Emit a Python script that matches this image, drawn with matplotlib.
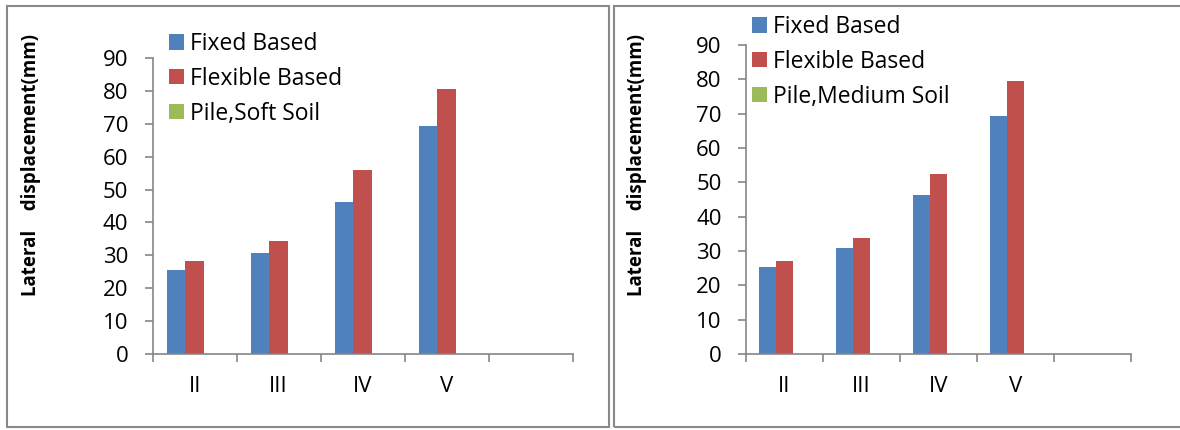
import matplotlib
matplotlib.use("Agg")
import matplotlib.pyplot as plt
from matplotlib.patches import Rectangle

plt.rcParams['font.family'] = ['Open Sans', 'DejaVu Sans']

# storey levels and lateral displacement (mm)
storeys = ["II", "III", "IV", "V"]
fixed_soft = [25.5, 30.7, 46.3, 69.3]
flexible_soft = [28.3, 34.5, 56.0, 80.5]
pile_soft = [0, 0, 0, 0]

fixed_medium = [25.4, 30.8, 46.2, 69.4]
flexible_medium = [27.1, 33.7, 52.5, 79.5]
pile_medium = [0, 0, 0, 0]

W, H = 1180, 430
BLUE, RED, GREEN = '#4F81BD', '#C0504D', '#9BBB59'
GREY = '#868686'


def px(x0, y0, x1, y1):
    # pixel box (top-left origin) -> figure fraction rect
    return [x0 / W, (H - y1) / H, (x1 - x0) / W, (y1 - y0) / H]


def panel(fig, box, axrect, legpos, ylab_x, fixed, flexible, pile, pile_name):
    fig.patches.append(Rectangle((box[0] / W, (H - box[3]) / H),
                                 (box[2] - box[0]) / W, (box[3] - box[1]) / H,
                                 transform=fig.transFigure, fill=False,
                                 edgecolor='#898989', linewidth=1.5))

    ax = fig.add_axes(px(*axrect))
    n = len(storeys)
    w = 0.22
    centers = [i + 0.5 for i in range(n)]
    b1 = ax.bar([c - w for c in centers], fixed, w, color=BLUE, label="Fixed Based")
    b2 = ax.bar(centers, flexible, w, color=RED, label="Flexible Based")
    b3 = ax.bar([c + w for c in centers], pile, w, color=GREEN, linewidth=0, label=pile_name)

    ax.set_xlim(0, n + 1)
    ax.set_ylim(0, 90)
    ax.set_yticks(range(0, 91, 10))
    ax.set_xticks(range(0, n + 2))
    ax.set_xticklabels([])
    ax.set_xticks(centers, minor=True)
    ax.set_xticklabels(storeys, minor=True)

    for s in ['top', 'right']:
        ax.spines[s].set_visible(False)
    for s in ['left', 'bottom']:
        ax.spines[s].set_color(GREY)
        ax.spines[s].set_linewidth(1.2)
    ax.tick_params(axis='both', which='major', color=GREY, width=1.2, length=5.5,
                   labelsize=16, pad=12)
    ax.tick_params(axis='x', which='minor', length=0, labelsize=16, pad=16)

    fig.legend(handles=[b1, b2, b3], loc='upper left',
               bbox_to_anchor=(legpos[0] / W, (H - legpos[1]) / H),
               bbox_transform=fig.transFigure, frameon=False, fontsize=16.5,
               handlelength=0.66, handleheight=0.66, handletextpad=0.25,
               labelspacing=0.47, borderpad=0, borderaxespad=0)

    fig.text(ylab_x / W, (H - 165) / H, "Lateral    displacement(mm)",
             rotation=90, ha='center', va='center', fontsize=13.5, fontweight='bold')
    return ax


fig = plt.figure(figsize=(W / 100, H / 100), dpi=100)

panel(fig, (6.5, 5.7, 609, 427), (152.7, 58, 572.7, 354), (169, 32), 30.6,
      fixed_soft, flexible_soft, pile_soft, "Pile,Soft Soil")
panel(fig, (614, 5.7, 1185, 427), (746, 45, 1131, 354), (752, 15), 637,
      fixed_medium, flexible_medium, pile_medium, "Pile,Medium Soil")

fig.savefig("out.png", dpi=100)
